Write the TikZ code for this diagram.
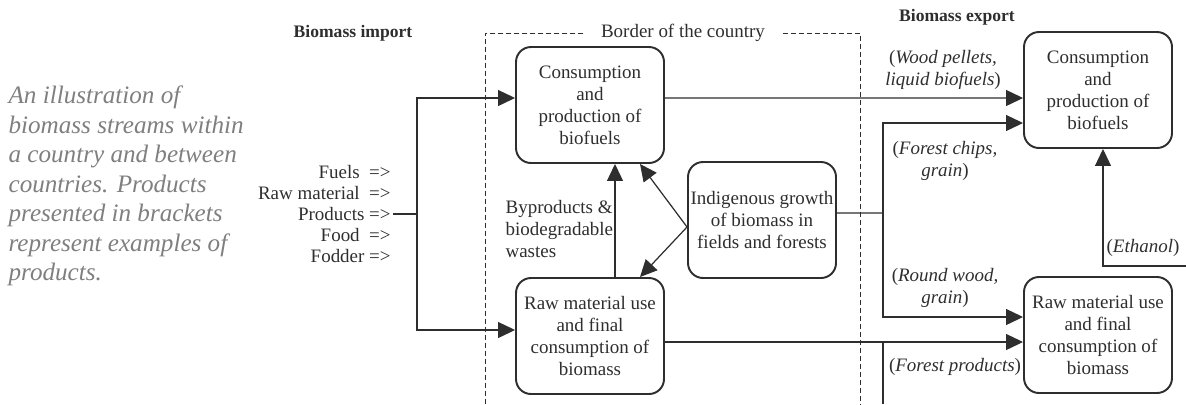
\documentclass[tikz,border=0pt]{standalone}
\usepackage{fontspec}
\setmainfont{Liberation Serif}
\usetikzlibrary{arrows.meta}
\definecolor{ink}{HTML}{2E2E2E}
\definecolor{capgray}{HTML}{7F7F7F}
\begin{document}
\begin{tikzpicture}[x=.2mm,y=-.2mm,line width=.7pt,draw=ink,text=ink,
 font=\fontsize{10.8}{12.5}\selectfont,
 box/.style={draw=ink,line width=1.1pt,rounded corners=3mm,minimum width=29.6mm,minimum height=23.2mm,align=center,inner sep=1pt},
 arr/.style={-{Triangle[length=3.4mm,width=3.2mm]}},
 lbl/.style={align=center,inner sep=0pt},
 bord/.style={line width=.5pt,dash pattern=on 1mm off .6mm}]
\useasboundingbox (0,0) rectangle (1186,404);
\node[anchor=west,align=left,text=capgray,inner sep=0pt,font=\itshape\fontsize{14.3}{16.8}\selectfont] (cap) at (8,186)
 {An illustration of\\biomass streams within\\a country and between\\countries. Products\\presented in brackets\\represent examples of\\products.};
\node[font=\bfseries] (bimp) at (353,33) {Biomass import};
\node[font=\bfseries] (bexp) at (957,17) {Biomass export};
\node[inner xsep=3.4mm,inner ysep=0pt] (bord) at (683,33) {Border of the country};
\draw[bord] (bord.west) -| (485,404);
\draw[bord] (bord.east) -| (860,404);
\node[anchor=east,align=right,inner sep=1pt,font=\fontsize{10.8}{11.9}\selectfont] (imp) at (393,214)
 {Fuels \ =>\\Raw material \ =>\\Products =>\\Food \ =>\\Fodder =>};
\node[box] (cons) at (590,105) {Consumption\\and\\production of\\biofuels};
\node[box] (raw) at (590,336) {Raw material use\\and final\\consumption of\\biomass};
\node[box] (grow) at (762,220) {Indigenous growth\\of biomass in\\fields and forests};
\node[box] (expcons) at (1098,90) {Consumption\\and\\production of\\biofuels};
\node[box] (expraw) at (1098,335) {Raw material use\\and final\\consumption of\\biomass};
\node[anchor=west,align=left,inner sep=0pt] (byp) at (505,229) {Byproducts \&\\biodegradable\\wastes};
\node[lbl] (wood) at (943,70) {(\textit{Wood pellets,}\\\textit{liquid biofuels})};
\node[lbl] (chips) at (945,161) {(\textit{Forest chips,}\\\textit{grain})};
\node[lbl] (round) at (945,288) {(\textit{Round wood,}\\\textit{grain})};
\node[lbl] (fprod) at (955,367) {(\textit{Forest products})};
\node[lbl] (ethl) at (1143,248) {(\textit{Ethanol})};
\coordinate (jimp) at (417,214);
\coordinate (jexp) at (883,213);
\coordinate (jdown) at (883,342);
\coordinate (low) at (883,404);
\coordinate (eth) at (1186,266);
\draw (imp.east) -- (jimp);
\draw[arr] (jimp) |- ([yshift=1.4mm]cons.west);
\draw[arr] (jimp) |- ([yshift=1.2mm]raw.west);
\draw[arr] ([xshift=5mm]raw.north) -- ([xshift=5mm]cons.south);
\draw[arr] ([yshift=-1.4mm]grow.west) -- ([xshift=10mm]cons.south);
\draw[arr] ([yshift=-1.4mm]grow.west) -- ([xshift=10mm]raw.north);
\draw ([yshift=1.4mm]grow.east) -- (jexp);
\draw[arr] (jexp) |- ([yshift=-6.6mm]expcons.west);
\draw[arr] (jexp) |- ([yshift=3.6mm]expraw.west);
\draw[arr] ([yshift=1.4mm]cons.east) -- ([yshift=-1.6mm]expcons.west);
\draw[arr] ([yshift=-1.2mm]raw.east) -- ([yshift=-1.4mm]expraw.west);
\draw (jdown) -- (low);
\draw[arr] (eth) -| ([xshift=1mm]expcons.south);
\end{tikzpicture}
\end{document}
